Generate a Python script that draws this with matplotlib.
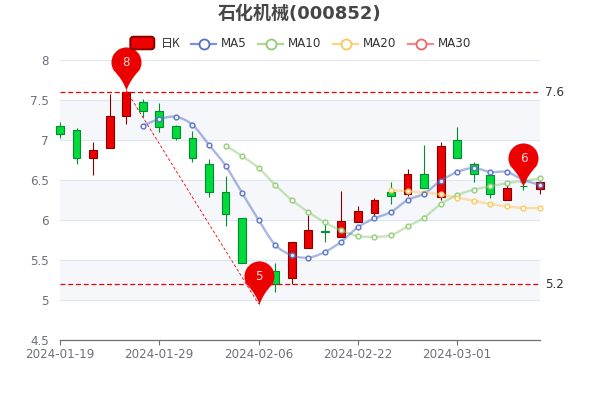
import matplotlib
matplotlib.use('Agg')
import matplotlib.pyplot as plt
import numpy as np
from matplotlib.path import Path
from matplotlib.patches import PathPatch, FancyBboxPatch
from matplotlib.lines import Line2D
from matplotlib.transforms import Affine2D

plt.rcParams['font.family'] = ['DejaVu Sans', 'Noto Sans CJK SC']

dates = ['2024-01-19', '2024-01-22', '2024-01-23', '2024-01-24', '2024-01-25', '2024-01-26',
         '2024-01-29', '2024-01-30', '2024-01-31', '2024-02-01', '2024-02-02', '2024-02-05',
         '2024-02-06', '2024-02-07', '2024-02-08', '2024-02-19', '2024-02-20', '2024-02-21',
         '2024-02-22', '2024-02-23', '2024-02-26', '2024-02-27', '2024-02-28', '2024-02-29',
         '2024-03-01', '2024-03-04', '2024-03-05', '2024-03-06', '2024-03-07', '2024-03-08']

opens = [7.18, 7.12, 6.77, 6.90, 7.30, 7.48, 7.36, 7.18, 7.02, 6.70, 6.35, 6.03, 5.46, 5.36, 5.27,
         5.65, 5.86, 5.79, 5.98, 6.09, 6.35, 6.32, 6.57, 6.29, 7.00, 6.70, 6.56, 6.25, 6.43, 6.39]
closes = [7.07, 6.77, 6.88, 7.30, 7.60, 7.36, 7.16, 7.02, 6.78, 6.35, 6.07, 5.46, 5.20, 5.20, 5.72,
          5.88, 5.85, 5.99, 6.11, 6.25, 6.30, 6.57, 6.40, 6.93, 6.77, 6.58, 6.32, 6.40, 6.42, 6.47]
lows = [7.03, 6.70, 6.56, 6.90, 7.20, 7.29, 7.10, 7.00, 6.73, 6.29, 5.92, 5.46, 4.95, 5.10, 5.20,
        5.65, 5.72, 5.79, 5.97, 6.04, 6.20, 6.30, 6.40, 6.25, 6.77, 6.48, 6.28, 6.25, 6.38, 6.33]
highs = [7.22, 7.15, 6.97, 7.57, 7.60, 7.51, 7.46, 7.19, 7.11, 6.76, 6.55, 6.03, 5.49, 5.46, 5.72,
         6.06, 6.00, 6.36, 6.17, 6.28, 6.48, 6.64, 6.94, 6.97, 7.16, 6.73, 6.56, 6.44, 6.46, 6.49]

ma5 = [7.18, 7.26, 7.29, 7.19, 6.94, 6.68, 6.34, 6.00, 5.69, 5.56, 5.53, 5.60, 5.73, 5.91, 6.02,
       6.10, 6.25, 6.33, 6.49, 6.60, 6.65, 6.60, 6.60, 6.50, 6.44]
ma10 = [6.93, 6.80, 6.65, 6.44, 6.25, 6.10, 5.97, 5.87, 5.80, 5.79, 5.81, 5.92, 6.03, 6.20, 6.31,
        6.38, 6.42, 6.46, 6.49, 6.52]
ma20 = [6.37, 6.36, 6.34, 6.32, 6.28, 6.24, 6.20, 6.17, 6.15, 6.15]

pin_idx = [4, 12, 28]
pin_val = [7.62, 4.95, 6.42]
pin_txt = ['8', '5', '6']
hlines = [7.6, 5.2]
yticks = [4.5, 5, 5.5, 6, 6.5, 7, 7.5, 8]
ytick_labels = ['4.5', '5', '5.5', '6', '6.5', '7', '7.5', '8']

UP, UP_EDGE = '#ec0000', '#8a0000'
DOWN, DOWN_EDGE = '#00da3c', '#008f28'
C5, C10, C20, C30 = '#5470c6', '#91cc75', '#fac858', '#ee6666'


def smooth_path(xs, ys):
    # catmull-rom curve through the values, like the smooth option of the original
    xs = np.asarray(xs, float)
    ys = np.asarray(ys, float)
    verts = [(xs[0], ys[0])]
    codes = [Path.MOVETO]
    n = len(xs)
    for i in range(n - 1):
        a = max(i - 1, 0)
        b = min(i + 2, n - 1)
        verts.append((xs[i] + (xs[i + 1] - xs[a]) / 6, ys[i] + (ys[i + 1] - ys[a]) / 6))
        verts.append((xs[i + 1] - (xs[b] - xs[i]) / 6, ys[i + 1] - (ys[b] - ys[i]) / 6))
        verts.append((xs[i + 1], ys[i + 1]))
        codes += [Path.CURVE4] * 3
    return Path(verts, codes)


def pin_marker():
    # tip on (0,0), head is a circle above it, sides bend in towards the tip
    r, d = 15.0, 28.0
    ang = np.degrees(np.arcsin(r / d))
    arc = Path.arc(-ang, 180 + ang)
    v = arc.vertices * r + [0, d]
    verts = [(0, 0), (v[0][0] * 0.3, v[0][1] * 0.55), tuple(v[0])]
    codes = [Path.MOVETO, Path.CURVE3, Path.CURVE3]
    verts += [tuple(p) for p in v[1:]]
    codes += list(arc.codes[1:])
    verts += [(v[-1][0] * 0.3, v[-1][1] * 0.55), (0, 0), (0, 0)]
    codes += [Path.CURVE3, Path.CURVE3, Path.CLOSEPOLY]
    return Path(verts, codes)


fig = plt.figure(figsize=(6, 4), dpi=100)
ax = fig.add_axes([60 / 600, 60 / 400, 480 / 600, 280 / 400])
px = Affine2D().scale(1 / 600, -1 / 400).translate(0, 1) + fig.transFigure

x = np.arange(len(dates))
ax.set_xlim(0, len(dates) - 1)
ax.set_ylim(4.5, 8)

# alternating bands and grid
for lo in [5, 6, 7]:
    ax.axhspan(lo, lo + 0.5, color='#f5f7fb', lw=0, zorder=0)
ax.set_yticks(yticks)
ax.set_yticklabels(ytick_labels)
ax.grid(axis='y', color='#e0e6f1', lw=0.8, zorder=1)
ax.set_axisbelow(True)
for s in ['top', 'right', 'left']:
    ax.spines[s].set_visible(False)
ax.spines['bottom'].set_color('#6e7079')
ax.spines['bottom'].set_linewidth(0.9)
ax.tick_params(axis='y', length=0, colors='#6e7079', labelsize=8.6, pad=8)
ax.set_xticks(x[::6])
ax.set_xticklabels(dates[::6])
ax.tick_params(axis='x', length=3.6, width=0.8, color='#6e7079', labelcolor='#6e7079', labelsize=8.6, pad=2.5)

# candles
for i in x:
    up = closes[i] >= opens[i]
    fc, ec = (UP, UP_EDGE) if up else (DOWN, DOWN_EDGE)
    ax.vlines(i, lows[i], highs[i], color=ec, lw=0.8, zorder=3, clip_on=False)
    lo, hi = min(opens[i], closes[i]), max(opens[i], closes[i])
    ax.bar(i, hi - lo, bottom=lo, width=0.47, color=fc, edgecolor=ec, linewidth=0.8, zorder=3, clip_on=False)

# moving averages
for vals, col in [(ma10, C10), (ma20, C20), (ma5, C5)]:
    xs = x[len(x) - len(vals):]
    ax.add_patch(PathPatch(smooth_path(xs, vals), fc='none', ec=col, lw=1.7, alpha=0.5, zorder=4, clip_on=False))
    ax.plot(xs, vals, ls='none', marker='o', ms=3.4, mfc='white', mec=col, mew=1.1, alpha=0.9, zorder=5, clip_on=False)

# mark lines
for v in hlines:
    ax.plot([x[0], x[-1]], [v, v], color='#f00000', lw=0.9, dashes=(4, 2.2), zorder=4)
    ax.annotate(f'{v}', xy=(x[-1], v), xytext=(3.6, -0.5), textcoords='offset points', va='center', ha='left',
                fontsize=8.6, color='#333333', annotation_clip=False)
ax.plot([pin_idx[0], pin_idx[1]], [pin_val[0], pin_val[1]], color='#f00000', lw=0.6, dashes=(3.5, 2.5), zorder=4)

# pins
mk = pin_marker()
for i, v, t in zip(pin_idx, pin_val, pin_txt):
    ax.plot([i], [v], marker=mk, ms=62, mfc='#ec0000', mec='none', ls='none', zorder=7, clip_on=False)
    ax.annotate(t, xy=(i, v), xytext=(0, 20), textcoords='offset points', ha='center', va='center',
                fontsize=8.6, color='#ffdddd', zorder=8, annotation_clip=False)

# legend, drawn in pixels of the picture
fig.add_artist(FancyBboxPatch((130.3, 36.7), 24, 12.6, boxstyle='round,pad=0,rounding_size=3',
                              fc=UP, ec=UP_EDGE, lw=1.4, transform=px, zorder=9))
fig.text(161, 43.5, '日K', transform=px, fontsize=8.6, color='#333333', va='center', ha='left',
         family=['Noto Sans CJK SC', 'DejaVu Sans'])
legend_items = [('MA5', C5, 191, 221), ('MA10', C10, 258, 288), ('MA20', C20, 333, 363), ('MA30', C30, 408, 438)]
for name, col, x0, tx in legend_items:
    fig.add_artist(Line2D([x0, x0 + 25], [43.5, 43.5], color=col, lw=1.6, alpha=0.75, transform=px))
    fig.add_artist(Line2D([x0 + 12.5], [43.5], marker='o', ms=7.2, mfc='white', mec=col, mew=1.3, ls='none', transform=px))
    fig.text(tx, 43.5, name, transform=px, fontsize=8.6, color='#333333', va='center', ha='left')

fig.text(300, 14, '石化机械(000852)', transform=px, fontsize=13, fontweight='bold', color='#464646', ha='center', va='center')

fig.savefig('out.png', dpi=100)
